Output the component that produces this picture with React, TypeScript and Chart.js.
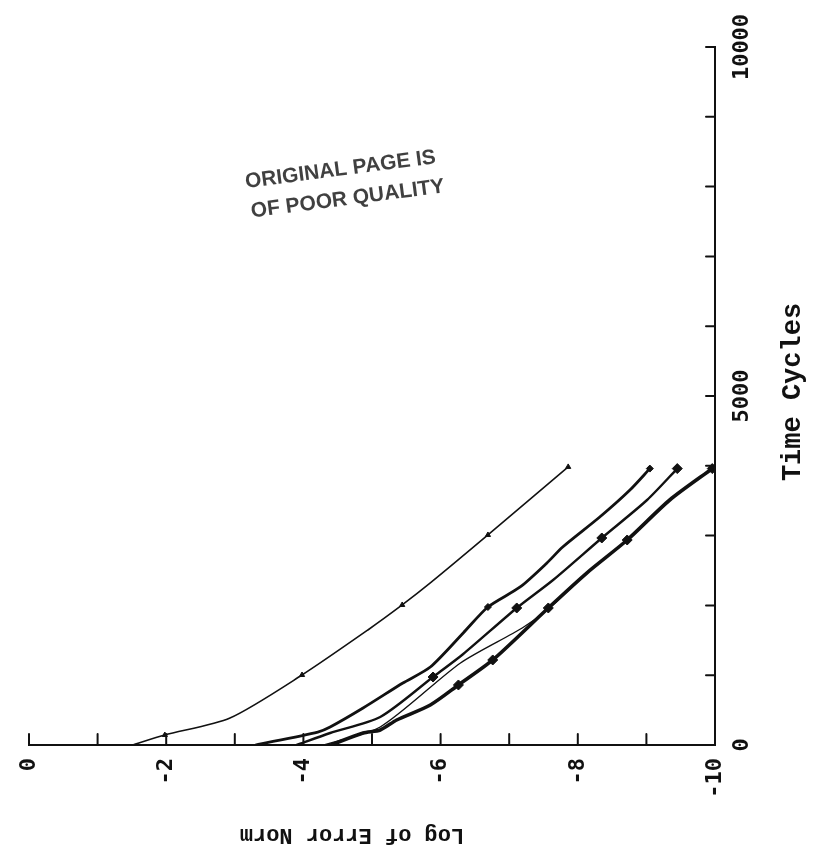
import React, { useEffect, useRef } from "react";
import { Chart, registerables } from "chart.js";

Chart.register(...registerables);

// Horizontal axis: log of error norm; vertical axis: time cycles
const LOG_TICK_LABELS = [0, -2, -4, -6, -8, -10];
const LOG_TICK_MARKS = [0, -1, -2, -3, -4, -5, -6, -7, -8, -9, -10];
const CYCLE_TICK_LABELS = [0, 5000, 10000];
const CYCLE_TICK_MARKS = [0, 1000, 2000, 3000, 4000, 5000, 6000, 7000, 8000, 9000, 10000];

const curveA_log = [-1.5, -1.98, -2.93, -3.98, -4.94, -5.44, -5.85, -6.69, -7.86];
const curveA_cycles = [0, 143, 387, 1003, 1648, 2006, 2321, 3009, 3984];
const curveA_markLog = [-1.98, -3.98, -5.44, -6.69, -7.86];
const curveA_markCycles = [143, 1003, 2006, 3009, 3984];

const curveB_log = [-3.3, -4.21, -4.39, -4.87, -5.45, -5.85, -6.33, -6.69, -7.16, -7.55, -7.78, -8.32, -8.76, -9.05];
const curveB_cycles = [0, 186, 258, 530, 888, 1117, 1605, 1977, 2264, 2608, 2837, 3266, 3653, 3960];
const curveB_markLog = [-6.69, -9.05];
const curveB_markCycles = [1977, 3960];

const curveC_log = [-3.9, -4.39, -5.12, -5.89, -6.33, -7.11, -7.64, -8.35, -9.01, -9.45];
const curveC_cycles = [0, 172, 401, 974, 1304, 1963, 2364, 2966, 3510, 3960];
const curveC_markLog = [-5.89, -7.11, -8.35, -9.45];
const curveC_markCycles = [974, 1963, 2966, 3960];

const curveD_log = [-4.3, -5.12, -6.29, -7.19, -7.59, -8.13, -8.72, -9.34, -9.96];
const curveD_cycles = [0, 258, 1175, 1676, 1963, 2464, 2937, 3510, 3960];

const curveE_log = [-4.4, -4.87, -5.12, -5.36, -5.85, -6.26, -6.76, -7.57, -8.13, -8.72, -9.34, -9.96];
const curveE_cycles = [0, 172, 215, 358, 573, 860, 1218, 1963, 2464, 2937, 3510, 3960];
const curveE_markLog = [-6.26, -6.76, -7.57, -8.72, -9.96];
const curveE_markCycles = [860, 1218, 1963, 2937, 3960];

const X_TITLE = "Log of Error Norm";
const Y_TITLE = "Time Cycles";
const STAMP_LINES = ["ORIGINAL PAGE IS", "OF POOR QUALITY"];

const pts = (xs: number[], ys: number[]) => xs.map((v, i) => ({ x: v, y: ys[i] }));

const INK = "#111111";

const decorPlugin = {
  id: "decor",
  afterDraw(chart: any) {
    const { ctx, chartArea: ca, scales } = chart;
    const xs = scales.x;
    const ys = scales.y;
    ctx.save();
    ctx.strokeStyle = INK;
    ctx.fillStyle = INK;
    ctx.lineWidth = 2;
    ctx.lineCap = "round";
    // inward tick marks
    LOG_TICK_MARKS.forEach((v) => {
      const px = xs.getPixelForValue(v);
      ctx.beginPath();
      ctx.moveTo(px, ca.bottom);
      ctx.lineTo(px, ca.bottom - 11);
      ctx.stroke();
    });
    CYCLE_TICK_MARKS.forEach((v) => {
      const py = ys.getPixelForValue(v);
      ctx.beginPath();
      ctx.moveTo(ca.right, py);
      ctx.lineTo(ca.right - 9, py);
      ctx.stroke();
    });
    // tick labels of horizontal axis, rotated
    ctx.font = "bold 22px 'DejaVu Sans Mono'";
    LOG_TICK_LABELS.forEach((v) => {
      const px = xs.getPixelForValue(v);
      ctx.save();
      ctx.translate(px, ca.bottom + 13);
      ctx.rotate(-Math.PI / 2);
      ctx.textAlign = "right";
      ctx.textBaseline = "middle";
      ctx.fillText(String(v), 0, 0);
      ctx.restore();
    });
    // tick labels of vertical axis, rotated
    CYCLE_TICK_LABELS.forEach((v) => {
      const py = ys.getPixelForValue(v);
      ctx.save();
      ctx.translate(ca.right + 27, py);
      ctx.rotate(-Math.PI / 2);
      ctx.textAlign = "center";
      ctx.textBaseline = "middle";
      ctx.fillText(String(v), 0, 0);
      ctx.restore();
    });
    // axis titles
    ctx.font = "bold 22px 'Liberation Mono'";
    ctx.save();
    ctx.translate((ca.left + ca.right) / 2 - 20, ca.bottom + 90);
    ctx.rotate(Math.PI);
    ctx.textAlign = "center";
    ctx.textBaseline = "middle";
    ctx.fillText(X_TITLE, 0, 0);
    ctx.restore();

    ctx.font = "bold 27px 'Liberation Mono'";
    ctx.save();
    ctx.translate(ca.right + 78, (ca.top + ca.bottom) / 2 - 4);
    ctx.rotate(-Math.PI / 2);
    ctx.textAlign = "center";
    ctx.textBaseline = "middle";
    ctx.fillText(Y_TITLE, 0, 0);
    ctx.restore();

    // stamp
    ctx.fillStyle = "rgba(30,30,30,0.85)";
    ctx.font = "bold 21px 'Liberation Sans'";
    ctx.save();
    ctx.translate(246, 188);
    ctx.rotate(-0.13);
    ctx.textAlign = "left";
    ctx.textBaseline = "alphabetic";
    ctx.fillText(STAMP_LINES[0], 0, 0);
    ctx.fillText(STAMP_LINES[1], 2, 30);
    ctx.restore();
    ctx.restore();
  },
};

export default function App() {
  const ref = useRef<HTMLCanvasElement | null>(null);
  useEffect(() => {
    if (!ref.current) return;
    const line = (data: any[], width: number) => ({
      data,
      showLine: true,
      borderColor: INK,
      backgroundColor: INK,
      borderWidth: width,
      pointRadius: 0,
      tension: 0.25,
    });
    const marks = (data: any[], style: string, r: number) => ({
      data,
      showLine: false,
      pointStyle: style,
      pointRadius: r,
      borderColor: INK,
      backgroundColor: INK,
      borderWidth: 1,
    });
    const chart = new Chart(ref.current, {
      type: "scatter",
      data: {
        datasets: [
          line(pts(curveA_log, curveA_cycles), 1.6),
          line(pts(curveB_log, curveB_cycles), 2.8),
          line(pts(curveC_log, curveC_cycles), 2.4),
          line(pts(curveD_log, curveD_cycles), 1.4),
          line(pts(curveE_log, curveE_cycles), 3.6),
          marks(pts(curveA_markLog, curveA_markCycles), "triangle", 3),
          marks(pts(curveB_markLog, curveB_markCycles), "rectRot", 3.5),
          marks(pts(curveC_markLog, curveC_markCycles), "rectRot", 5),
          marks(pts(curveE_markLog, curveE_markCycles), "rectRot", 5),
        ] as any,
      },
      options: {
        animation: false,
        responsive: false,
        devicePixelRatio: 1,
        layout: { padding: { left: 29, right: 101, top: 47, bottom: 117 } },
        plugins: { legend: { display: false }, tooltip: { enabled: false } },
        scales: {
          x: {
            type: "linear",
            min: -10,
            max: 0,
            reverse: true,
            grid: { display: false },
            ticks: { display: false },
            border: { display: true, color: INK, width: 2 },
            afterFit: (s: any) => {
              s.height = 0;
            },
          },
          y: {
            type: "linear",
            position: "right",
            min: 0,
            max: 10000,
            grid: { display: false },
            ticks: { display: false },
            border: { display: true, color: INK, width: 2 },
            afterFit: (s: any) => {
              s.width = 0;
            },
          },
        },
      } as any,
      plugins: [decorPlugin],
    });
    return () => chart.destroy();
  }, []);
  return (
    <div style={{ position: "fixed", left: 0, top: 0, width: 816, height: 862, background: "#fff" }}>
      <canvas ref={ref} width={816} height={862} style={{ display: "block" }} />
    </div>
  );
}
